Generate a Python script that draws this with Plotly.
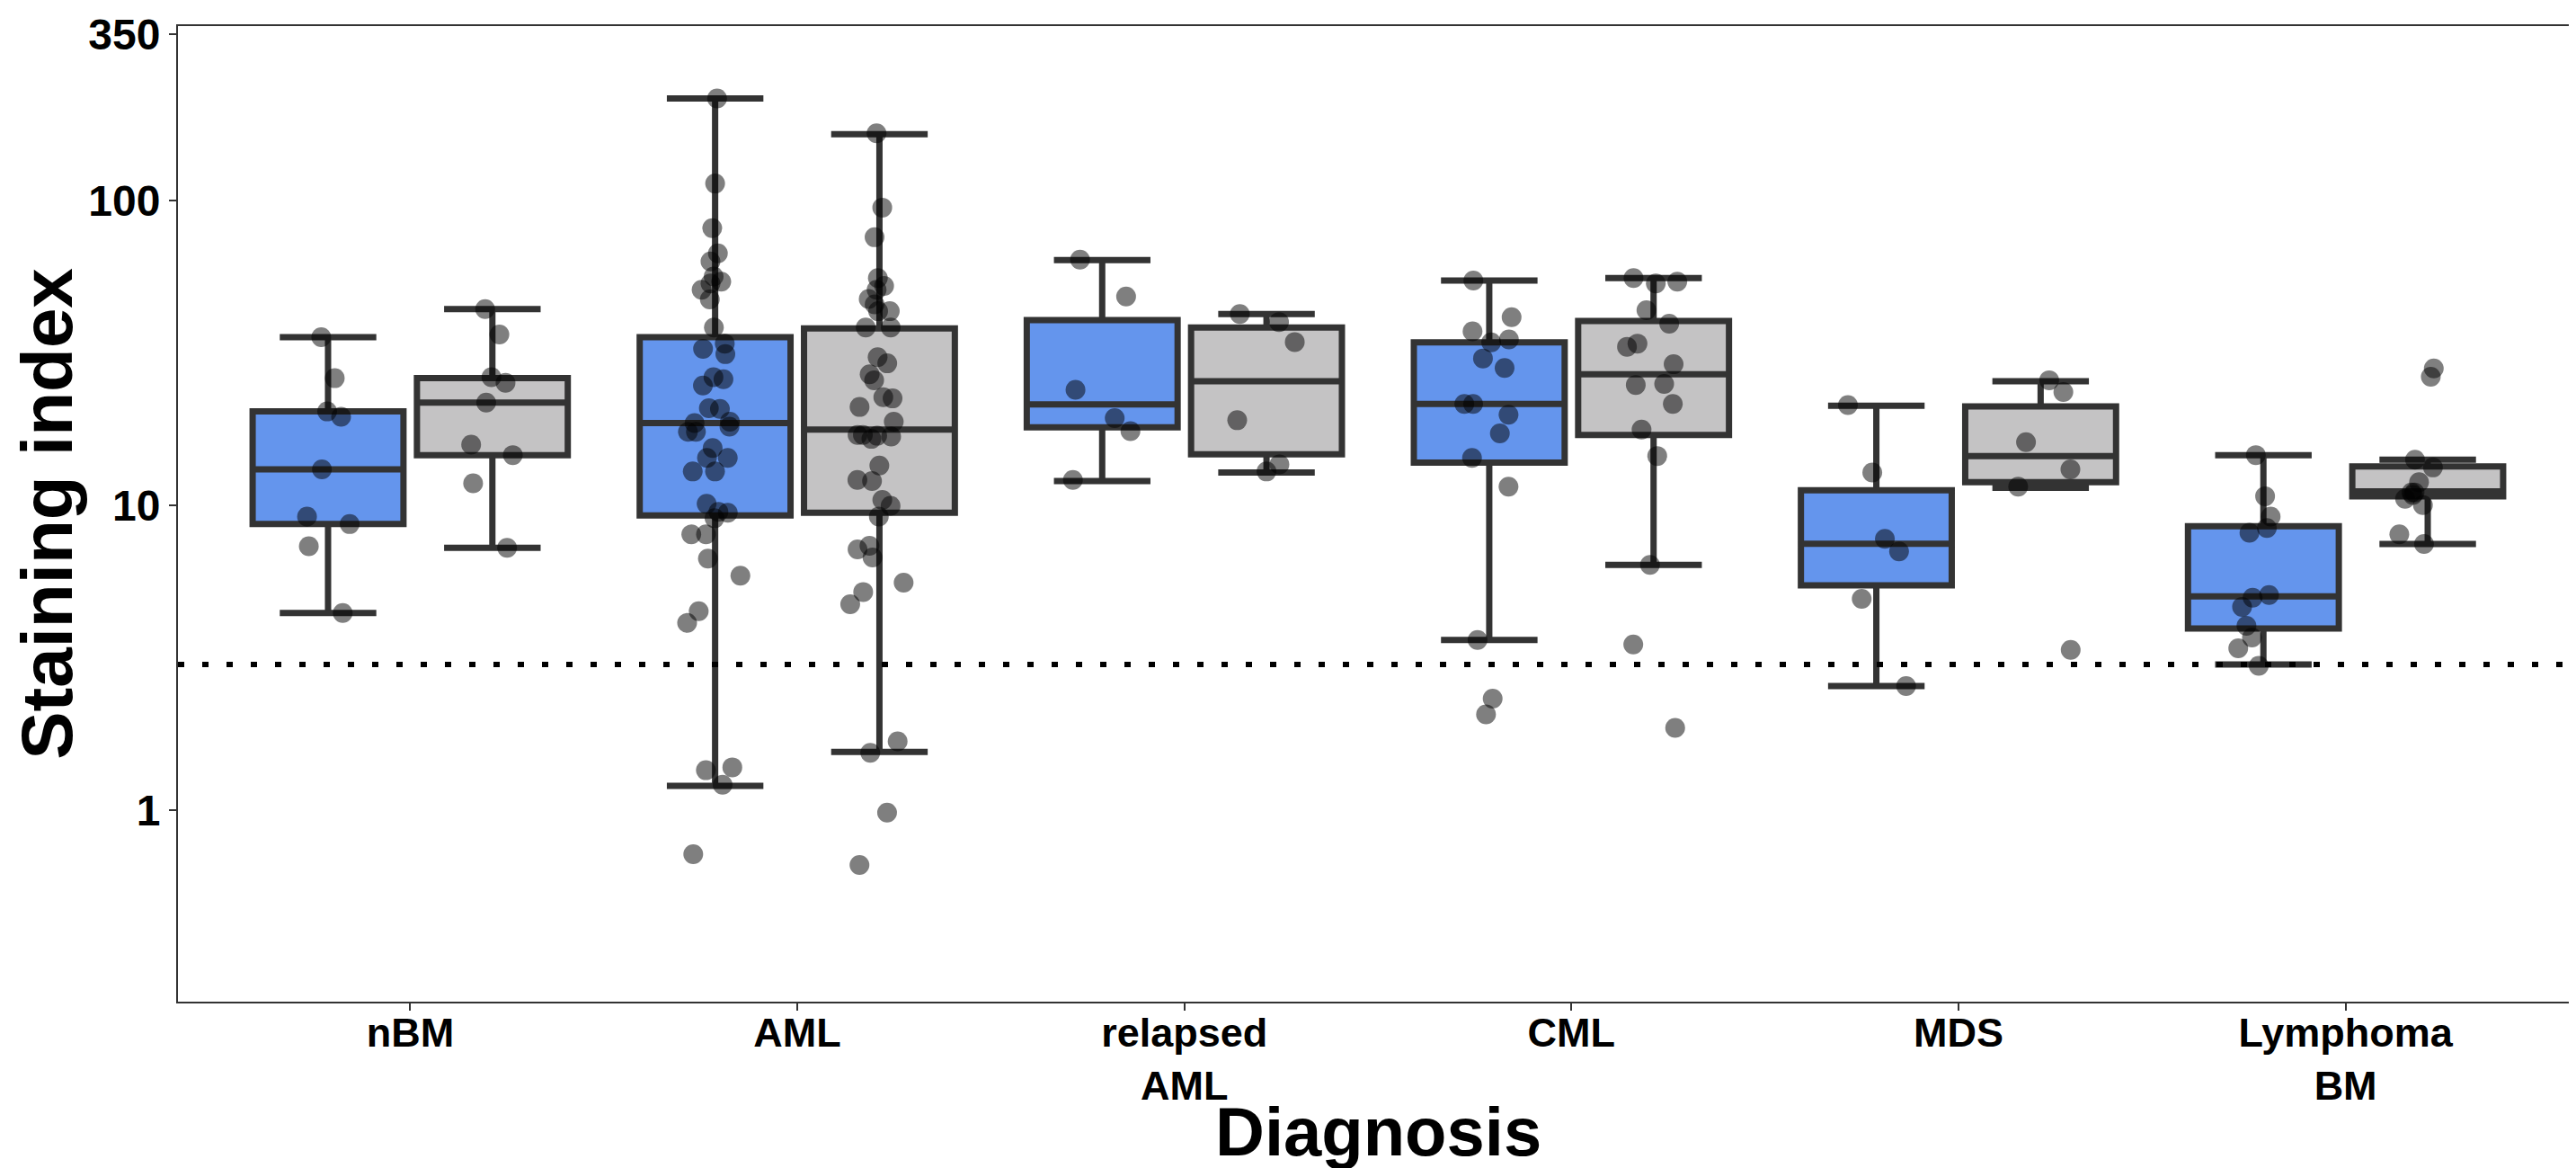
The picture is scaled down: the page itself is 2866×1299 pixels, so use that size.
import plotly.graph_objects as go

DIAGNOSES = ["nBM", "AML", "relapsed<br>AML", "CML", "MDS", "Lymphoma<br>BM"]
THRESHOLD = 3

# box statistics (log-scale whiskers, so given explicitly)
BLUE_Q1 = [8.67, 9.25, 18.0, 13.8, 5.46, 3.94]
BLUE_MED = [13.1, 18.6, 21.4, 21.5, 7.47, 5.02]
BLUE_Q3 = [20.3, 35.6, 40.5, 34.2, 11.2, 8.53]
BLUE_LO = [4.43, 1.20, 12.0, 3.61, 2.55, 3.0]
BLUE_HI = [35.6, 216, 63.7, 54.6, 21.2, 14.6]

GRAY_Q1 = [14.6, 9.44, 14.7, 17.0, 11.9, 10.7]
GRAY_MED = [21.7, 17.7, 25.5, 26.9, 14.5, 11.1]
GRAY_Q3 = [26.1, 38.0, 38.3, 40.2, 21.1, 13.4]
GRAY_LO = [7.25, 1.55, 12.8, 6.37, 11.4, 7.46]
GRAY_HI = [44.0, 165, 42.4, 55.6, 25.5, 14.1]

# individual samples
nbm_blue = [35.6, 26.1, 20.3, 19.5, 13.1, 9.17, 8.67, 7.33, 4.43]
aml_blue = [216, 113.6, 81.1, 67.0, 63.1, 56.3, 54.1, 53.4, 50.9, 47.3, 38.3,
            33.9, 32.6, 31.3, 26.3, 25.9, 24.7, 20.8, 20.7, 18.8, 18.6, 18.1,
            17.4, 17.4, 15.4, 14.3, 14.3, 12.9, 12.9, 10.1, 9.51, 9.44, 9.06,
            8.02, 8.02, 6.68, 5.87, 4.49, 4.11, 1.38, 1.35, 1.21, 0.716]
rel_blue = [63.9, 48.4, 23.9, 19.3, 17.5, 12.1]
cml_blue = [54.6, 41.4, 37.2, 35.0, 34.2, 30.3, 28.2, 21.5, 21.5, 19.8, 17.2,
            14.3, 11.5, 3.61, 2.32, 2.06]
mds_blue = [21.3, 12.8, 7.76, 7.05, 4.93, 2.55]
lym_blue = [14.6, 10.7, 9.17, 8.41, 8.12, 5.07, 4.97, 4.64, 4.02, 3.68, 3.39, 2.97]

nbm_gray = [44.0, 36.3, 26.3, 25.2, 21.7, 15.8, 14.6, 11.8, 7.25]
aml_gray = [166, 94.7, 75.7, 55.6, 52.4, 50.9, 47.5, 45.6, 43.3, 43.3, 38.3,
            38.3, 30.6, 29.2, 26.9, 25.7, 22.6, 22.4, 21.0, 18.8, 17.0, 17.0,
            16.9, 16.8, 16.5, 13.5, 12.1, 12.0, 10.4, 9.95, 9.17, 7.36, 7.16,
            6.74, 5.57, 5.19, 4.73, 1.68, 1.54, 0.98, 0.66]
rel_gray = [42.4, 39.9, 34.3, 19.0, 13.6, 12.9]
cml_gray = [55.6, 54.1, 53.4, 43.6, 39.4, 33.9, 33.1, 29.0, 25.0, 24.8, 21.5,
            17.7, 14.5, 6.37, 3.49, 1.86]
mds_gray = [25.7, 23.5, 16.1, 13.1, 11.5, 3.35]
lym_gray = [28.1, 26.4, 14.1, 13.3, 11.9, 11.0, 11.0, 10.8, 10.5, 10.0, 8.02, 7.46]

BLUE = "#6495ED"
GRAY = "#C4C3C4"
EDGE = "#333333"
FONT = "Liberation Sans, Arial, sans-serif"


def box(name, fill, q1, med, q3, lo, hi, samples):
    return go.Box(
        name=name,
        x=DIAGNOSES,
        q1=q1,
        median=med,
        q3=q3,
        lowerfence=lo,
        upperfence=hi,
        y=samples,
        boxpoints="all",
        jitter=0.4,
        pointpos=0,
        fillcolor=fill,
        line=dict(color=EDGE, width=7),
        whiskerwidth=0.64,
        marker=dict(color="rgba(0,0,0,0.5)", size=22, line=dict(width=0)),
        offsetgroup=name,
        showlegend=False,
    )


fig = go.Figure()
fig.add_trace(box("blue", BLUE, BLUE_Q1, BLUE_MED, BLUE_Q3, BLUE_LO, BLUE_HI,
                  [nbm_blue, aml_blue, rel_blue, cml_blue, mds_blue, lym_blue]))
fig.add_trace(box("gray", GRAY, GRAY_Q1, GRAY_MED, GRAY_Q3, GRAY_LO, GRAY_HI,
                  [nbm_gray, aml_gray, rel_gray, cml_gray, mds_gray, lym_gray]))

fig.add_shape(type="line", xref="paper", x0=0, x1=1, yref="y",
              y0=THRESHOLD, y1=THRESHOLD,
              line=dict(color="black", width=6, dash="7px,20px"))

# x-axis title as an annotation so it sits just under the two-line tick labels
fig.add_annotation(text="Diagnosis", xref="paper", yref="paper", x=0.5, y=-0.174,
                   xanchor="center", yanchor="bottom", showarrow=False,
                   font=dict(family=FONT, size=76, color="black", weight="bold"))

axis_common = dict(
    showline=True, mirror=True, linecolor=EDGE, linewidth=2,
    ticks="outside", ticklen=8, tickwidth=2, tickcolor=EDGE,
    showgrid=False, zeroline=False,
)

fig.update_layout(
    width=2866,
    height=1299,
    margin=dict(l=190, r=4, t=18, b=193),
    plot_bgcolor="white",
    paper_bgcolor="white",
    boxmode="group",
    boxgap=0.151,
    boxgroupgap=0.082,
    xaxis=dict(
        type="category", range=[-0.6, 5.6],
        ticklabelstandoff=-14,
        tickfont=dict(family=FONT, size=45, color="black", weight="bold"),
        **axis_common,
    ),
    yaxis=dict(
        type="log", range=[-0.629, 2.572],
        tickvals=[1, 10, 100, 350], ticktext=["1", "10", "100", "350"],
        tickfont=dict(family=FONT, size=48, color="black", weight="bold"),
        title=dict(text="Staining index", standoff=6,
                   font=dict(family=FONT, size=80, color="black", weight="bold")),
        **axis_common,
    ),
)

fig.write_html("out.html")
